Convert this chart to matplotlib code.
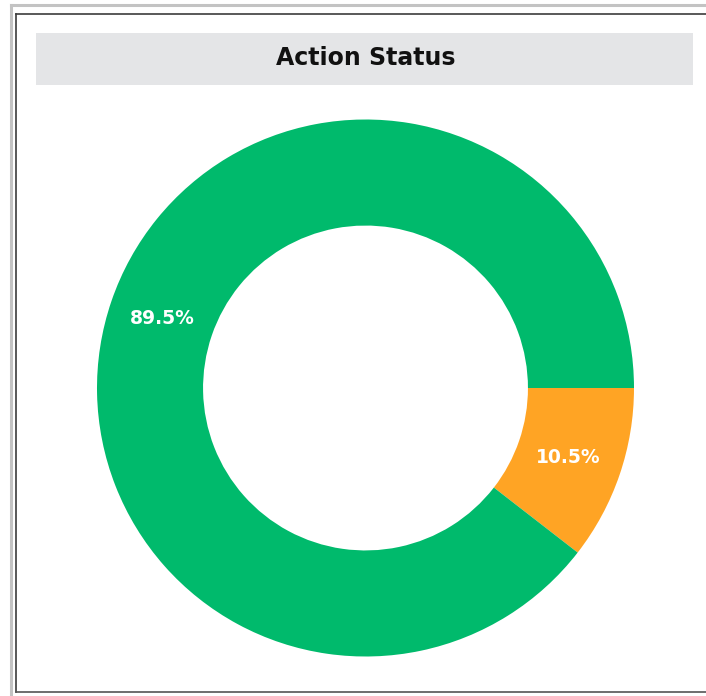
import matplotlib.pyplot as plt
from matplotlib.patches import Rectangle
from matplotlib.lines import Line2D

# data
labels = ['Open', 'Closed']
values = [10.5, 89.5]
colors = ['#FFA424', '#00BA6C']
title = 'Action Status'

W, H = 706, 696
fig = plt.figure(figsize=(W / 100, H / 100), dpi=100)
fig.patch.set_facecolor('white')


def fx(px):
    return px / W


def fy(py):
    # py measured from top of the picture
    return 1 - py / H


# frame lines (light outer, dark inner)
fig.add_artist(Line2D([fx(11), fx(11)], [0, fy(5)], color='#c3c3c3', lw=2.2))
fig.add_artist(Line2D([fx(11), 1], [fy(5), fy(5)], color='#c3c3c3', lw=2.2))
fig.add_artist(Line2D([fx(16.3), fx(16.3)], [fy(691.5), fy(13.5)], color='#3c3c3c', lw=1.2))
fig.add_artist(Line2D([fx(16.3), 1], [fy(13.5), fy(13.5)], color='#3c3c3c', lw=1.2))
fig.add_artist(Line2D([fx(16.3), 1], [fy(691.5), fy(691.5)], color='#555555', lw=1.2))

# title bar
fig.add_artist(Rectangle((fx(36), fy(85)), fx(693) - fx(36), fy(33) - fy(85),
                         transform=fig.transFigure, facecolor='#e4e5e7', edgecolor='none'))
fig.text(fx(366), fy(58), title, ha='center', va='center', fontsize=17,
         fontweight='bold', family='DejaVu Sans', color='#111111')

# donut
cx, cy, r = 365.5, 388, 268.5
ax = fig.add_axes([fx(cx - r), fy(cy + r), 2 * r / W, 2 * r / H])
wedges, texts, autotexts = ax.pie(values, colors=colors, startangle=0, counterclock=False,
                                  radius=1, autopct='%.1f%%', pctdistance=0.80,
                                  wedgeprops=dict(width=0.395, linewidth=0),
                                  textprops=dict(color='white', fontsize=13.5,
                                                 fontweight='bold',
                                                 family='DejaVu Sans'))
ax.set_xlim(-1, 1)
ax.set_ylim(-1, 1)
ax.set_aspect('equal')
ax.axis('off')

fig.savefig('out.png', dpi=100, facecolor='white')
